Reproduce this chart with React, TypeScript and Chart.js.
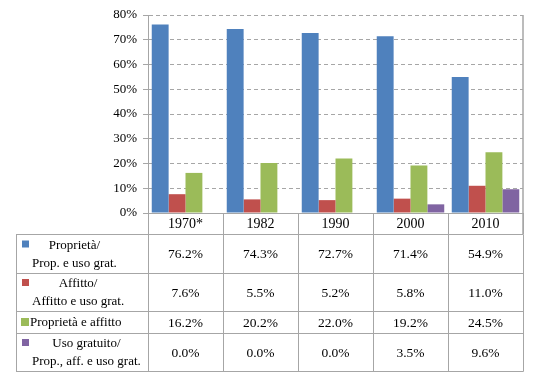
import React, { useEffect, useRef } from "react";
import { Chart, registerables } from "chart.js";

Chart.register(...registerables);

const categories = ["1970*", "1982", "1990", "2000", "2010"];
const seriesNames = [
  "Proprietà/ Prop. e uso grat.",
  "Affitto/ Affitto e uso grat.",
  "Proprietà e affitto",
  "Uso gratuito/ Prop., aff. e uso grat.",
];
const seriesLabelLines = [
  ["Proprietà/", "Prop. e uso grat."],
  ["Affitto/", "Affitto e uso grat."],
  ["Proprietà e affitto"],
  ["Uso gratuito/", "Prop., aff. e uso grat."],
];
const proprieta = [76.2, 74.3, 72.7, 71.4, 54.9];
const affitto = [7.6, 5.5, 5.2, 5.8, 11.0];
const proprietaAffitto = [16.2, 20.2, 22.0, 19.2, 24.5];
const usoGratuito = [0.0, 0.0, 0.0, 3.5, 9.6];
const seriesColors = ["#4F81BD", "#C0504D", "#9BBB59", "#8064A2"];
const yMin = 0;
const yMax = 80;
const yStep = 10;

const FONT = "'Liberation Serif', 'Times New Roman', serif";
const LINE = "#A6A6A6";

const tablePlugin = {
  id: "dataTable",
  afterDraw(chart: any) {
    const ctx = chart.ctx;
    const xs = chart.scales.x;
    const area = chart.chartArea;
    const tableLeft = 16;
    const top = xs.bottom;
    const rowHeights = [39, 38, 22, 38];
    const ys: number[] = [top];
    let acc = top;
    rowHeights.forEach((h) => {
      acc += h;
      ys.push(acc);
    });
    const bottom = ys[ys.length - 1];
    const n = chart.data.labels.length;
    const w = (xs.right - xs.left) / n;
    const crisp = (v: number) => Math.round(v) + 0.5;

    ctx.save();
    ctx.strokeStyle = LINE;
    ctx.lineWidth = 1;
    const line = (x1: number, y1: number, x2: number, y2: number) => {
      ctx.beginPath();
      ctx.moveTo(x1, y1);
      ctx.lineTo(x2, y2);
      ctx.stroke();
    };
    ys.forEach((y) => line(tableLeft, crisp(y), crisp(area.right), crisp(y)));
    const xb = [tableLeft, xs.left];
    for (let i = 0; i < n; i++) xb.push(xs.getPixelForValue(i) + w / 2);
    xb.forEach((x) => line(crisp(x), crisp(top), crisp(x), crisp(bottom)));
    // plot-area right border
    ctx.lineWidth = 1.5;
    line(area.right, area.top, area.right, top);

    // values
    ctx.fillStyle = "#000";
    ctx.textBaseline = "middle";
    ctx.textAlign = "center";
    ctx.font = `13.5px ${FONT}`;
    chart.data.datasets.forEach((ds: any, r: number) => {
      const cy = (ys[r] + ys[r + 1]) / 2;
      ds.data.forEach((v: number, i: number) => {
        ctx.fillText(v.toFixed(1) + "%", xs.getPixelForValue(i), cy + 1);
      });
      // legend label
      const lines = seriesLabelLines[r];
      ctx.font = `13px ${FONT}`;
      const lh = 18;
      ctx.fillStyle = ds.backgroundColor;
      if (lines.length === 1) {
        ctx.fillRect(21, cy - 4, 8, 8);
        ctx.fillStyle = "#000";
        ctx.textAlign = "left";
        ctx.fillText(lines[0], 30, cy + 1);
      } else {
        const firstY = cy - lh / 2;
        ctx.fillRect(22, firstY - 4, 7, 7);
        ctx.fillStyle = "#000";
        const maxW = Math.max(...lines.map((t) => ctx.measureText(t).width));
        const cx = 32 + maxW / 2;
        ctx.textAlign = "center";
        lines.forEach((t, k) => ctx.fillText(t, cx, firstY + k * lh + 1));
      }
      ctx.textAlign = "center";
      ctx.font = `13.5px ${FONT}`;
    });
    ctx.restore();
  },
};

export default function App() {
  const ref = useRef<HTMLCanvasElement | null>(null);
  useEffect(() => {
    if (!ref.current) return;
    const seriesValues = [proprieta, affitto, proprietaAffitto, usoGratuito];
    const chart = new Chart(ref.current, {
      type: "bar",
      data: {
        labels: categories,
        datasets: seriesValues.map((vals, i) => ({
          label: seriesNames[i],
          data: vals,
          backgroundColor: seriesColors[i],
          borderWidth: 0,
          categoryPercentage: 0.9,
          barPercentage: 1,
        })),
      },
      options: {
        responsive: false,
        devicePixelRatio: 1,
        animation: false,
        layout: { padding: { top: 15, right: 12, bottom: 150, left: 0 } },
        plugins: { legend: { display: false }, tooltip: { enabled: false } },
        scales: {
          x: {
            type: "category",
            grid: {
              offset: true,
              drawOnChartArea: false,
              drawTicks: true,
              tickLength: 21,
              color: LINE,
            },
            border: { display: true, color: LINE, width: 1 },
            ticks: {
              padding: -18,
              color: "#000",
              font: { family: FONT, size: 14 },
              maxRotation: 0,
            },
            afterFit: (s: any) => {
              s.height = 21;
            },
          },
          y: {
            min: yMin,
            max: yMax,
            ticks: {
              stepSize: yStep,
              padding: 6,
              color: "#000",
              font: { family: FONT, size: 13 },
              callback: (v: any) => v + "%",
            },
            grid: {
              color: LINE,
              tickLength: 5,
              tickBorderDash: [],
            },
            border: { display: true, color: LINE, width: 1, dash: [4, 3] },
            afterFit: (s: any) => {
              s.width = 148;
            },
          },
        },
      },
      plugins: [tablePlugin],
    });
    return () => chart.destroy();
  }, []);
  return (
    <div style={{ position: "fixed", left: 0, top: 0, width: 535, height: 384, background: "#fff" }}>
      <canvas ref={ref} width={535} height={384} />
    </div>
  );
}
